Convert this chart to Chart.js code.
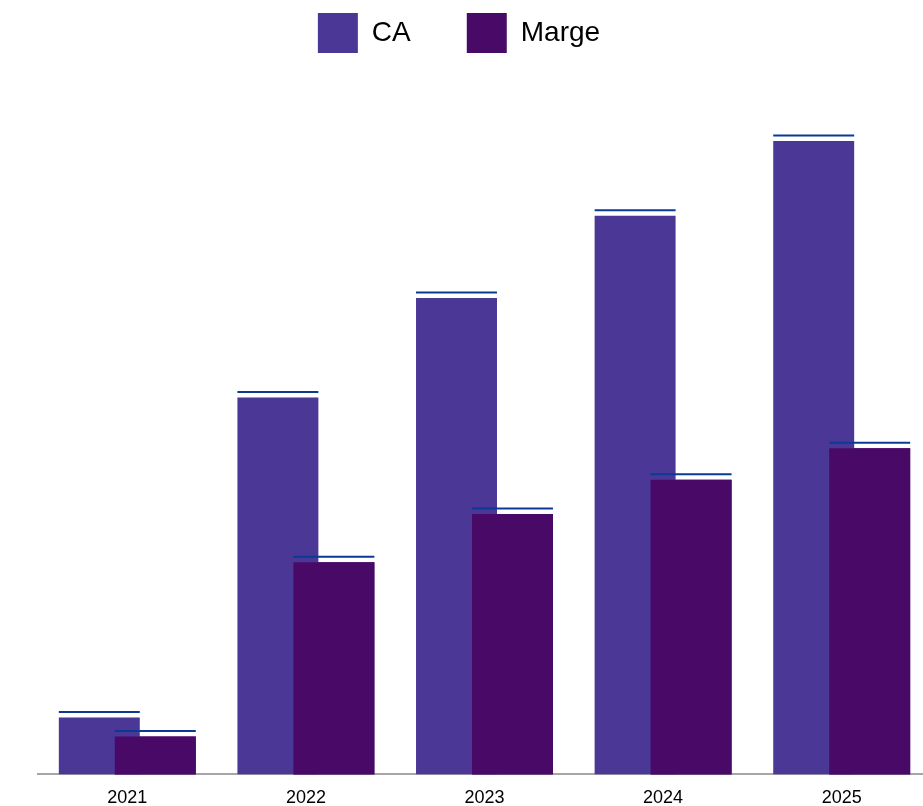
<!DOCTYPE html>
<html>
<head>
<meta charset="utf-8">
<script src="https://cdn.jsdelivr.net/npm/chart.js@4.4.0/dist/chart.umd.min.js"></script>
<style>
  html, body { margin: 0; padding: 0; background: #fff; overflow: hidden; width: 923px; height: 806px; }
  #wrap { position: absolute; left: -13px; top: -43px; width: 944px; height: 865px; }
</style>
</head>
<body>
<div id="wrap"><canvas id="caChart" width="944" height="865"></canvas></div>
<script>
const years = ['2021', '2022', '2023', '2024', '2025'];
const caValues = [90, 595, 752, 882, 1000];
const margeValues = [60, 335, 411, 465, 515];
const yMax = 1123;

// Marge drawn over CA, plus the thin blue line above each bar
const topLines = {
    id: 'topLines',
    afterDatasetsDraw(chart) {
        const ctx = chart.ctx;
        chart.getDatasetMeta(1).data.forEach(bar => bar.draw(ctx));
        ctx.save();
        ctx.strokeStyle = '#0b3a94';
        ctx.lineWidth = 2;
        chart.data.datasets.forEach((ds, i) => {
            chart.getDatasetMeta(i).data.forEach(bar => {
                const { x, y, width } = bar.getProps(['x', 'y', 'width'], true);
                ctx.beginPath();
                ctx.moveTo(x - width / 2, y - 5.5);
                ctx.lineTo(x + width / 2, y - 5.5);
                ctx.stroke();
            });
        });
        ctx.restore();
    }
};

Chart.defaults.font.family = '"Liberation Sans", Arial, sans-serif';
Chart.defaults.color = '#000';

new Chart(document.getElementById('caChart'), {
    type: 'bar',
    data: {
        labels: years,
        datasets: [{
            label: 'CA',
            data: caValues,
            backgroundColor: '#4b3796',
            categoryPercentage: 0.627,
            barPercentage: 1.446
        },
        {
            label: 'Marge',
            data: margeValues,
            backgroundColor: '#480a66',
            categoryPercentage: 0.627,
            barPercentage: 1.446
        }]
    },
    options: {
        responsive: false,
        animation: false,
        layout: { padding: { top: 0, left: 0, right: 0, bottom: 0 } },
        plugins: {
            legend: {
                position: 'top',
                labels: { boxWidth: 40, boxHeight: 40, padding: 56, font: { size: 28 }, color: '#000' }
            },
            tooltip: { enabled: false }
        },
        scales: {
            x: {
                grid: { display: false, drawTicks: false },
                border: { display: true, color: '#a6a6a6', width: 2 },
                ticks: { padding: 13, font: { size: 18 }, color: '#000' }
            },
            y: {
                min: 0,
                max: yMax,
                grid: { display: false, drawTicks: false },
                border: { display: false },
                ticks: { display: false },
                afterFit(scale) { scale.width = 51; }
            }
        }
    },
    plugins: [topLines]
});
</script>
</body>
</html>
